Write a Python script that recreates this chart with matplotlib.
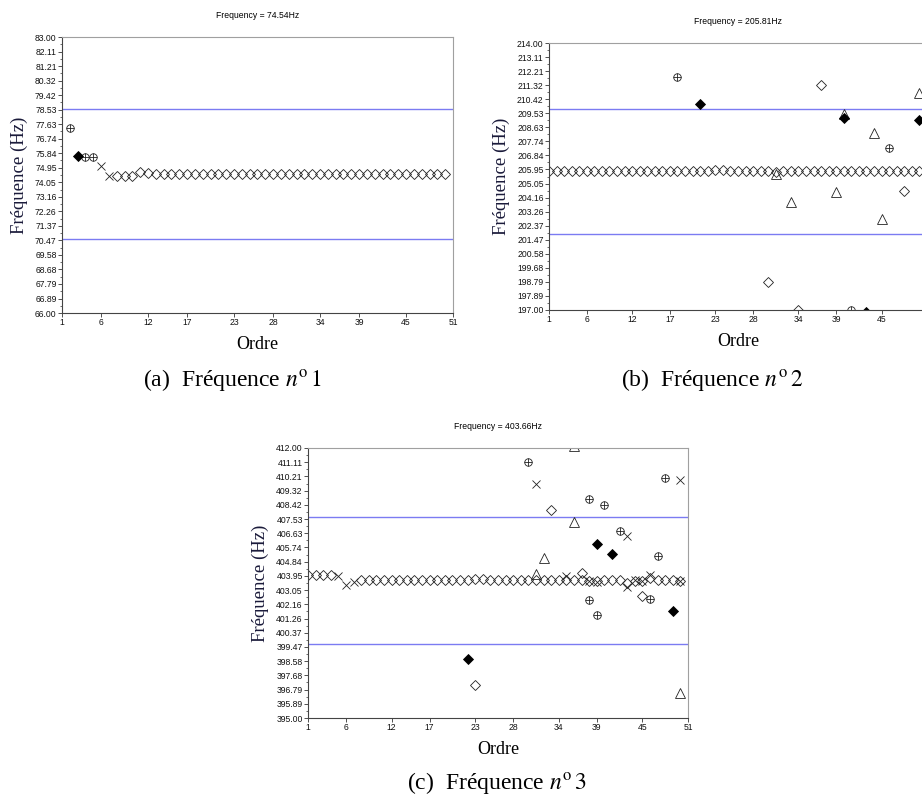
import numpy as np
import matplotlib.pyplot as plt
from matplotlib.ticker import AutoMinorLocator

plt.rcParams['mathtext.fontset'] = 'stix'

# x tick labels (model order)
order_ticks = [1, 6, 12, 17, 23, 28, 34, 39, 45, 51]

# ---- Mode 1 : 74.54 Hz ----
title_a = 'Frequency = 74.54Hz'
ylim_a = [66.0, 83.0]
band_a = [70.54, 78.54]
plus_a_ord = [2, 4, 5]
plus_a_f = [77.40, 75.62, 75.62]
fill_a_ord = [3]
fill_a_f = [75.66]
cross_a_ord = [6, 7]
cross_a_f = [75.05, 74.43]
tri_a_ord = []
tri_a_f = []
diam_a_ord = list(range(8, 51))
diam_a_f = [74.43, 74.44, 74.46, 74.68, 74.60, 74.58, 74.57, 74.58, 74.57, 74.57,
            74.58, 74.57, 74.57, 74.57, 74.58, 74.58, 74.57, 74.57, 74.57, 74.57,
            74.58, 74.57, 74.57, 74.57, 74.57, 74.58, 74.57, 74.57, 74.57, 74.57,
            74.57, 74.58, 74.57, 74.57, 74.57, 74.57, 74.57, 74.58, 74.57, 74.57,
            74.57, 74.57, 74.57]

# ---- Mode 2 : 205.81 Hz ----
title_b = 'Frequency = 205.81Hz'
ylim_b = [197.0, 214.0]
band_b = [201.81, 209.81]
plus_b_ord = [18, 46, 41]
plus_b_f = [211.84, 207.34, 197.02]
fill_b_ord = [21, 40, 50, 43]
fill_b_f = [210.12, 209.25, 209.10, 196.85]
cross_b_ord = []
cross_b_f = []
tri_b_ord = [40, 50, 44, 31, 33, 39, 45]
tri_b_f = [209.45, 210.82, 208.30, 205.65, 203.85, 204.53, 202.81]
diam_b_ord = list(range(1, 51)) + [37, 48, 30, 34]
diam_b_f = [205.86, 205.84, 205.84, 205.84, 205.83, 205.84, 205.84, 205.84, 205.84, 205.84,
            205.84, 205.84, 205.84, 205.84, 205.84, 205.84, 205.84, 205.84, 205.83, 205.84,
            205.83, 205.84, 205.92, 205.93, 205.86, 205.84, 205.84, 205.84, 205.84, 205.84,
            205.80, 205.84, 205.84, 205.84, 205.84, 205.84, 205.84, 205.84, 205.84, 205.84,
            205.84, 205.84, 205.84, 205.84, 205.84, 205.83, 205.82, 205.84, 205.84, 205.83,
            211.33, 204.55, 198.80, 197.02]

# ---- Mode 3 : 403.66 Hz ----
title_c = 'Frequency = 403.66Hz'
ylim_c = [395.0, 412.0]
band_c = [399.66, 407.66]
plus_c_ord = [30, 38, 40, 42, 47, 48, 38, 39, 46]
plus_c_f = [411.10, 408.80, 408.38, 406.78, 405.20, 410.10, 402.43, 401.48, 402.49]
fill_c_ord = [39, 41, 49, 22]
fill_c_f = [405.96, 405.31, 401.75, 398.72]
cross_c_ord = [5, 6, 7, 35, 38, 39, 43, 44, 45, 46, 50, 31, 43, 50]
cross_c_f = [403.96, 403.38, 403.55, 403.95, 403.62, 403.55, 403.22, 403.72, 403.62, 404.00,
             403.62, 409.75, 406.47, 409.96]
tri_c_ord = [36, 36, 32, 31, 50]
tri_c_f = [412.10, 407.31, 405.10, 404.07, 396.60]
diam_c_ord = [1, 2, 3, 4] + list(range(8, 51)) + [33, 37, 45, 23]
diam_c_f = [404.02, 404.00, 403.98, 403.98,
            403.68, 403.70, 403.70, 403.70, 403.70, 403.72, 403.70, 403.70, 403.70, 403.69,
            403.69, 403.70, 403.70, 403.70, 403.72, 403.76, 403.75, 403.70, 403.69, 403.69,
            403.69, 403.69, 403.70, 403.68, 403.66, 403.66, 403.70, 403.72, 403.68, 403.68,
            403.64, 403.60, 403.70, 403.72, 403.66, 403.52, 403.65, 403.62, 403.80, 403.68,
            403.68, 403.68, 403.64,
            408.07, 404.15, 402.68, 397.06]

ink = '#222222'


def draw_panel(ax, title, ylim, band, plus, fill, cross, tri, diam):
    for yb in band:
        ax.axhline(yb, color='#7b7bf2', lw=1.0, zorder=1)
    ax.plot(diam[0], diam[1], ls='none', marker='D', ms=5.2, mfc='none', mec=ink, mew=0.6)
    ax.plot(cross[0], cross[1], ls='none', marker='x', ms=6.2, mec=ink, mew=0.6)
    ax.plot(tri[0], tri[1], ls='none', marker='^', ms=6.8, mfc='none', mec=ink, mew=0.6)
    ax.plot(plus[0], plus[1], ls='none', marker='o', ms=5.4, mfc='none', mec=ink, mew=0.6)
    ax.plot(plus[0], plus[1], ls='none', marker='+', ms=5.4, mec=ink, mew=0.6)
    ax.plot(fill[0], fill[1], ls='none', marker='D', ms=4.8, mfc='black', mec='black', mew=0.6)

    ax.set_xlim(1, 51)
    ax.set_ylim(ylim)
    ax.set_xticks(order_ticks)
    ax.set_xticklabels([str(t) for t in order_ticks])
    yt = np.linspace(ylim[0], ylim[1], 20)
    ax.set_yticks(yt)
    ax.set_yticklabels(['%.2f' % v for v in yt])
    ax.yaxis.set_minor_locator(AutoMinorLocator(2))
    ax.tick_params(direction='out', length=3, width=0.6, pad=0.8, labelsize=6.2,
                   colors='#333333', labelcolor='#111111')
    ax.tick_params(which='minor', direction='out', length=1.8, width=0.5, colors='#333333')
    for lab in ax.get_xticklabels() + ax.get_yticklabels():
        lab.set_fontfamily('Liberation Sans')
    for s in ['left', 'bottom']:
        ax.spines[s].set_color('#444444')
        ax.spines[s].set_linewidth(0.8)
    for s in ['top', 'right']:
        ax.spines[s].set_color('#a0a0a0')
        ax.spines[s].set_linewidth(0.8)

    ax.set_title(title, fontsize=6.2, family='Liberation Sans', pad=14)
    ax.set_ylabel('Fréquence (Hz)', family='Liberation Serif', fontsize=13.5,
                  color='#1a1a3a', labelpad=5)
    ax.set_xlabel('Ordre', family='Liberation Serif', fontsize=13, labelpad=6)


fig = plt.figure(figsize=(9.22, 8.01), dpi=100)

ax_a = fig.add_axes([0.0672, 0.6092, 0.4241, 0.3446])
draw_panel(ax_a, title_a, ylim_a, band_a, (plus_a_ord, plus_a_f), (fill_a_ord, fill_a_f),
           (cross_a_ord, cross_a_f), (tri_a_ord, tri_a_f), (diam_a_ord, diam_a_f))

ax_b = fig.add_axes([0.5954, 0.6130, 0.4100, 0.3333])
draw_panel(ax_b, title_b, ylim_b, band_b, (plus_b_ord, plus_b_f), (fill_b_ord, fill_b_f),
           (cross_b_ord, cross_b_f), (tri_b_ord, tri_b_f), (diam_b_ord, diam_b_f))
# the last tick of panel (b) falls past the page edge in the original
ax_b.get_xticklabels()[-1].set_visible(False)

ax_c = fig.add_axes([0.3341, 0.1036, 0.4121, 0.3371])
draw_panel(ax_c, title_c, ylim_c, band_c, (plus_c_ord, plus_c_f), (fill_c_ord, fill_c_f),
           (cross_c_ord, cross_c_f), (tri_c_ord, tri_c_f), (diam_c_ord, diam_c_f))

# sub-captions
cap_kw = dict(ha='center', va='center', fontsize=17, family='Liberation Serif')
fig.text(233 / 922, 1 - 380 / 801, r'(a)  Fréquence $n^{\mathrm{o}}\,1$', **cap_kw)
fig.text(712 / 922, 1 - 380 / 801, r'(b)  Fréquence $n^{\mathrm{o}}\,2$', **cap_kw)
fig.text(497 / 922, 1 - 783 / 801, r'(c)  Fréquence $n^{\mathrm{o}}\,3$', **cap_kw)

fig.savefig('out.png', dpi=100)
